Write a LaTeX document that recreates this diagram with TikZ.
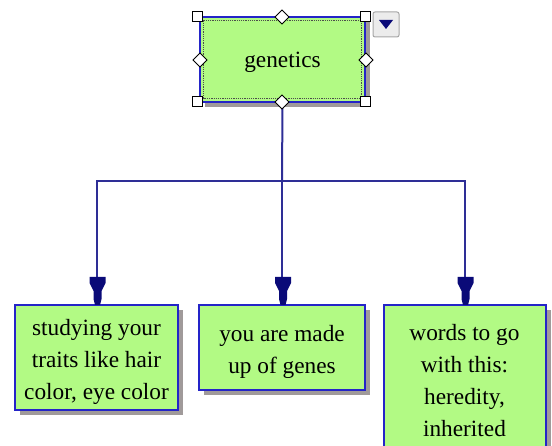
\documentclass[tikz,border=0pt]{standalone}
\usepackage{fontspec}
\setmainfont{Liberation Serif}
\usetikzlibrary{shadows}
\definecolor{boxgreen}{HTML}{B2FA84}
\definecolor{boxblue}{HTML}{2424C8}
\definecolor{linenavy}{HTML}{2E2E96}
\definecolor{arrnavy}{HTML}{0A0A78}
\definecolor{shadowgray}{HTML}{A09A9A}
\tikzset{
  x=1pt,y=-1pt,
  box/.style={draw=boxblue,line width=2pt,fill=boxgreen,inner sep=0pt,
    drop shadow={shadow xshift=5pt,shadow yshift=-5pt,fill=shadowgray,opacity=1}},
  txt/.style={align=center,inner sep=0pt,font=\fontsize{23.3}{32}\selectfont},
  conn/.style={draw=linenavy,line width=2pt},
  handle/.style={draw=black,fill=white,line width=1pt,inner sep=0pt,minimum size=10pt},
  dmd/.style={draw=black,fill=white,line width=1pt},
}
\begin{document}
\begin{tikzpicture}
\useasboundingbox (0,0) rectangle (552,446);
% top node
\node[box,minimum width=165pt,minimum height=85pt] (top) at (282.5,59.5) {};
\draw[densely dotted,line width=1.2pt,black!70] (203.5,20.5) rectangle (361.5,98.5);
\node[txt] (topt) at ([yshift=-3pt]top.center) {genetics};
% bottom nodes
\node[box,minimum width=163pt,minimum height=105pt] (b1) at (96.5,357.5) {};
\node[txt] (b1t) at ([yshift=-4.5pt]b1.center) {studying your\\traits like hair\\color, eye color};
\node[box,minimum width=166pt,minimum height=85pt] (b2) at (282,347.5) {};
\node[txt] (b2t) at ([yshift=-4pt]b2.center) {you are made\\up of genes};
\node[box,minimum width=162pt,minimum height=150pt] (b3) at (464.5,380) {};
\node[txt] (b3t) at ([yshift=-1pt]b3.center) {words to go\\with this:\\heredity,\\inherited};
% connectors
\coordinate (j) at (282,181);
\draw[conn] (top.south) -- (j);
\draw[conn] (j) -| (b1.north);
\draw[conn] (j) -- (b2.north);
\draw[conn] (j) -| (b3.north);
% arrowheads
\foreach \n in {b1,b2,b3}{
  \fill[arrnavy] ([yshift=-1pt]\n.north) ++(-1.5,0) -- ++(-1.5,-6) -- ++(0,-8) -- ++(-4,-8) -- ++(0,-6) -- ++(16,0) -- ++(0,6) -- ++(-4,8) -- ++(0,8) -- ++(-1.5,6) -- cycle;
}
% selection handles
\foreach \p in {(197,17),(365,17),(197,102),(365,102)}{
  \node[handle] at \p {};
}
\foreach \p in {(282,17),(200,60),(366,60),(282,102)}{
  \draw[dmd] \p ++(0,-7) -- ++(7,7) -- ++(-7,7) -- ++(-7,-7) -- cycle;
}
% dropdown button
\draw[rounded corners=2pt,draw=gray!70,fill=gray!15,line width=1pt] (373,12) rectangle (399,37);
\fill[arrnavy] (379,20) -- (393,20) -- (386,29) -- cycle;
\end{tikzpicture}
\end{document}
